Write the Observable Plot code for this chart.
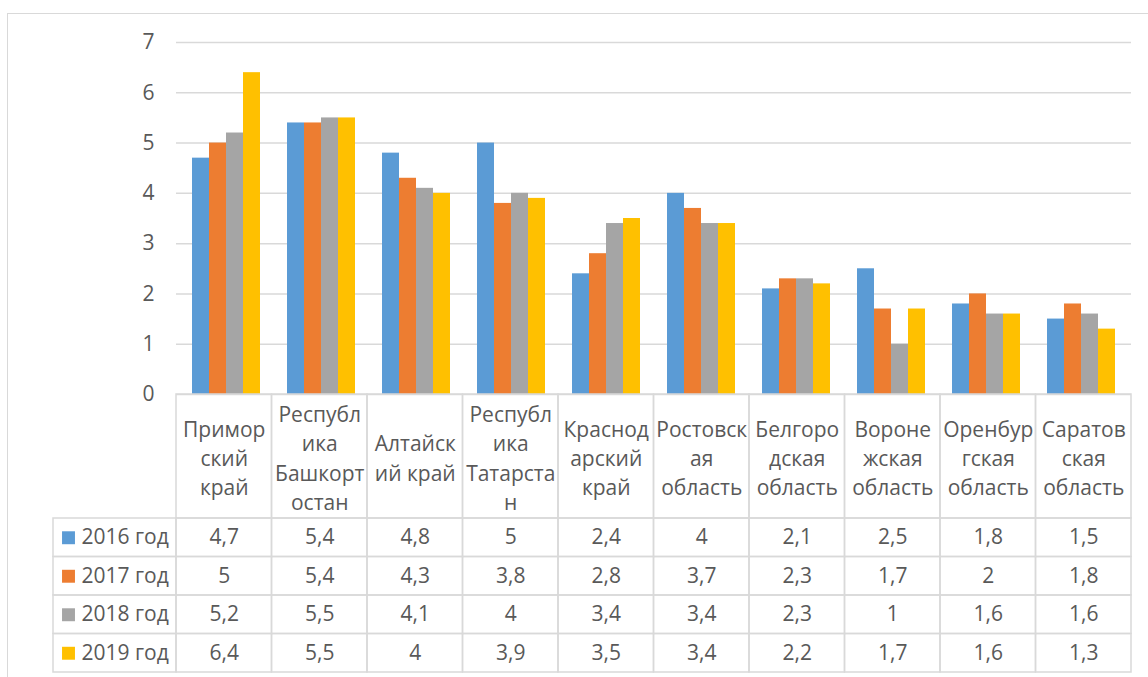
<!DOCTYPE html>
<html>
<head>
<meta charset="utf-8">
<script src="https://cdn.jsdelivr.net/npm/d3@7"></script>
<script src="https://cdn.jsdelivr.net/npm/@observablehq/plot@0.6"></script>
<style>
  html, body { margin: 0; padding: 0; background: #fff; overflow: hidden; }
  #wrap { position: relative; width: 1148px; height: 677px; overflow: hidden; }
  #frame { position: absolute; left: 7px; top: 13px; width: 1300px; height: 800px; border: 1.5px solid #d9d9d9; box-sizing: border-box; }
  #wrap svg { position: absolute; left: 0; }
</style>
</head>
<body>
<div id="wrap"><div id="frame"></div></div>
<script>
const categories = ["Приморский край", "Республика Башкортостан", "Алтайский край", "Республика Татарстан", "Краснодарский край", "Ростовская область", "Белгородская область", "Воронежская область", "Оренбургская область", "Саратовская область"];
const categoryLines = [
  ["Примор", "ский", "край"],
  ["Республ", "ика", "Башкорт", "остан"],
  ["Алтайск", "ий край"],
  ["Республ", "ика", "Татарста", "н"],
  ["Краснод", "арский", "край"],
  ["Ростовск", "ая", "область"],
  ["Белгоро", "дская", "область"],
  ["Вороне", "жская", "область"],
  ["Оренбур", "гская", "область"],
  ["Саратов", "ская", "область"]
];
const years = ["2016 год", "2017 год", "2018 год", "2019 год"];
const values2016 = [4.7, 5.4, 4.8, 5, 2.4, 4, 2.1, 2.5, 1.8, 1.5];
const values2017 = [5, 5.4, 4.3, 3.8, 2.8, 3.7, 2.3, 1.7, 2, 1.8];
const values2018 = [5.2, 5.5, 4.1, 4, 3.4, 3.4, 2.3, 1, 1.6, 1.6];
const values2019 = [6.4, 5.5, 4, 3.9, 3.5, 3.4, 2.2, 1.7, 1.6, 1.3];
const yTicks = [0, 1, 2, 3, 4, 5, 6, 7];
const colors = ["#5b9bd5", "#ed7d31", "#a5a5a5", "#ffc000"];

const series = [values2016, values2017, values2018, values2019];
const data = years.flatMap((yr, k) => categories.map((c, i) => ({cat: c, year: yr, value: series[k][i]})));

const FONT = "'Open Sans', sans-serif";
const TEXT = "#595959";
const GRID = "#d9d9d9";
const W = 1148;
const common = {width: W, height: 412, marginLeft: 176, marginRight: 17, marginTop: 42, marginBottom: 18};

const wrap = document.getElementById("wrap");

// Layer A: gridlines and y axis
const gridPlot = Plot.plot({
  ...common,
  style: {background: "transparent", fontFamily: FONT, fontSize: "21px", color: TEXT},
  x: {axis: null},
  y: {domain: [0, 7], ticks: yTicks, tickSize: 0, tickPadding: 22, label: null, tickFormat: d => String(d)},
  marks: [
    Plot.ruleY(yTicks, {stroke: GRID, strokeWidth: 1.5})
  ]
});
gridPlot.style.top = "0px";
wrap.appendChild(gridPlot);

// Layer B: grouped bars
const barPlot = Plot.plot({
  ...common,
  style: {background: "transparent", fontFamily: FONT},
  facet: {data, x: "cat"},
  fx: {domain: categories, paddingInner: 0.28, paddingOuter: 0.14, axis: null, label: null},
  x: {domain: years, padding: 0, axis: null},
  y: {domain: [0, 7], axis: null},
  color: {domain: years, range: colors},
  marks: [
    Plot.barY(data, {x: "year", y: "value", fill: "year", inset: 0})
  ]
});
barPlot.style.top = "0px";
wrap.appendChild(barPlot);

// Layer C: data table (category labels, legend, values)
const legW = 123 / 95.5;
const hdr = 124 / 38.5;
const idx = categories.map((c, i) => i);
const headerCells = idx.map(i => ({x1: i, x2: i + 1, y1: 0, y2: hdr}));
const dataCells = years.flatMap((yr, k) => idx.map(i => ({x1: i, x2: i + 1, y1: hdr + k, y2: hdr + k + 1})));
const legendCells = years.map((yr, k) => ({x1: -legW, x2: 0, y1: hdr + k, y2: hdr + k + 1}));
const fmt = v => String(v).replace(".", ",");

const tableMarks = [
  Plot.rect([...headerCells, ...dataCells, ...legendCells], {x1: "x1", x2: "x2", y1: "y1", y2: "y2", fill: "none", stroke: GRID, strokeWidth: 1.5}),
  Plot.text(categories, {x: (d, i) => i + 0.5, y: hdr / 2, text: (d, i) => categoryLines[i].join("\n"), lineHeight: 1.4, fill: TEXT}),
  Plot.dot(years, {x: -legW, y: (d, k) => hdr + k + 0.5, dx: 15, symbol: "square", r: 7.3, fill: (d, k) => colors[k], stroke: "none"}),
  Plot.text(years, {x: -legW, y: (d, k) => hdr + k + 0.5, dx: 28, textAnchor: "start", text: d => d, fill: TEXT})
];
series.forEach((vals, k) => {
  tableMarks.push(Plot.text(vals, {x: (d, i) => i + 0.5, y: hdr + k + 0.5, text: d => fmt(d), fill: TEXT}));
});

const tablePlot = Plot.plot({
  width: W, height: 280, marginLeft: 53, marginRight: 17, marginTop: 1, marginBottom: 1,
  style: {background: "transparent", fontFamily: FONT, fontSize: "21px", color: TEXT},
  x: {type: "linear", domain: [-legW, 10], axis: null},
  y: {type: "linear", domain: [0, hdr + 4], reverse: true, axis: null},
  marks: tableMarks
});
tablePlot.style.top = "393px";
wrap.appendChild(tablePlot);
</script>
</body>
</html>
